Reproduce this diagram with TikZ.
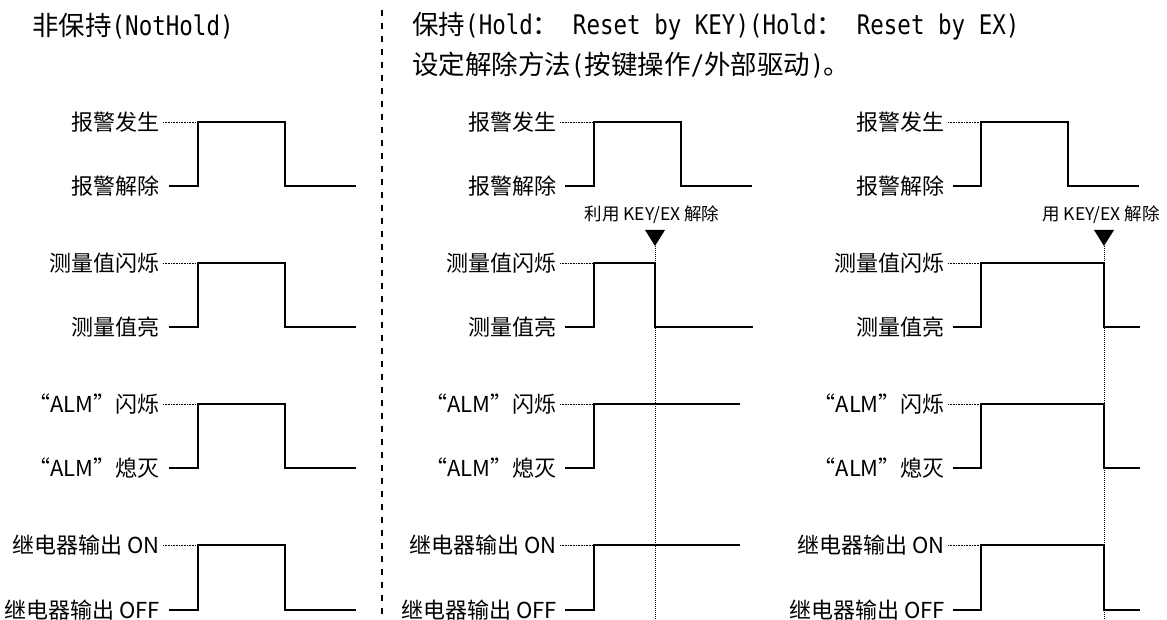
\documentclass[tikz,border=0pt]{standalone}
\usepackage{fontspec}
\setmainfont{Noto Sans CJK SC}
\newfontfamily\titlemono{DejaVu Sans Mono}
\newcommand\tm[1]{\scalebox{1}[1.2]{\titlemono\fontsize{22.5}{22.5}\selectfont #1}}
\begin{document}
\begin{tikzpicture}[x=1pt,y=-1pt]
\useasboundingbox (0,0) rectangle (1167,620);
\tikzset{
  lbl/.style={anchor=east, inner sep=0pt, font=\fontsize{22}{22}\selectfont},
  ttl/.style={anchor=west, inner sep=0pt, font=\fontsize{26.5}{26.5}\selectfont},
  mlbl/.style={inner sep=0pt, font=\fontsize{17.5}{17.5}\selectfont},
  wave/.style={line width=1.3pt, line join=miter, line cap=butt},
  lead/.style={line width=0.6pt, dash pattern=on 0.8pt off 0.8pt},
  vguide/.style={line width=0.8pt, dash pattern=on 1pt off 1pt},
  divider/.style={line width=1.2pt, dash pattern=on 6pt off 7pt},
  trimark/.style={fill=black}
}
\newcommand\rowlabels[6]{%
  \node[lbl] (#1h) at (#2,#3) {#5};
  \node[lbl] (#1l) at (#2,#4) {#6};
}
% titles
\node[ttl] (t1) at (32,26) {非保持\tm{(NotHold)}};
\node[ttl] (t2) at (412,26) {保持\tm{(Hold}：\tm{ Reset by KEY)(Hold}：\tm{ Reset by EX)}};
\node[ttl] (t3) at (412,65) {设定解除方法\tm{(}按键操作\tm{/}外部驱动\tm{)}。};
% divider
\coordinate (dv1) at (382,10);
\coordinate (dv2) at (382,620);
\draw[divider] (dv1) -- (dv2);

% ---------- left panel ----------
\rowlabels{La}{160}{122}{186}{报警发生}{报警解除}
\rowlabels{Lb}{160}{263}{327}{测量值闪烁}{测量值亮}
\rowlabels{Lc}{160}{404}{468}{“ALM”闪烁}{“ALM”熄灭}
\rowlabels{Ld}{160}{545}{610}{继电器输出 ON}{继电器输出 OFF}
\foreach \p/\yh/\yl in {La/122/186, Lb/263/327, Lc/404/468, Ld/545/610}{
  \draw[lead] ([xshift=3pt]\p h.east) -- (198,\yh);
  \draw[wave] ([xshift=9pt]\p l.east) -- (198,\yl) -- (198,\yh) -- (285,\yh) -- (285,\yl) -- (356,\yl);
}

% ---------- middle panel ----------
\rowlabels{Ma}{557}{122}{186}{报警发生}{报警解除}
\rowlabels{Mb}{557}{263}{327}{测量值闪烁}{测量值亮}
\rowlabels{Mc}{557}{404}{468}{“ALM”闪烁}{“ALM”熄灭}
\rowlabels{Md}{557}{545}{610}{继电器输出 ON}{继电器输出 OFF}
\foreach \p/\yh in {Ma/122, Mb/263, Mc/404, Md/545}{
  \draw[lead] ([xshift=3pt]\p h.east) -- (594,\yh);
}
\draw[wave] ([xshift=8pt]Mal.east) -- (594,186) -- (594,122) -- (681,122) -- (681,186) -- (752,186);
\draw[wave] ([xshift=8pt]Mbl.east) -- (594,327) -- (594,263) -- (655,263) -- (655,327) -- (753,327);
\draw[wave] ([xshift=8pt]Mcl.east) -- (594,468) -- (594,404) -- (740,404);
\draw[wave] ([xshift=8pt]Mdl.east) -- (594,610) -- (594,545) -- (740,545);
\node[mlbl] (mkA) at (652,215) {利用 KEY/EX 解除};
\coordinate (tA) at (655,246);
\coordinate (gA) at (655,620);
\fill[trimark] (645,230) -- (665,230) -- (tA) -- cycle;
\draw[vguide] (tA) -- (gA);

% ---------- right panel ----------
\rowlabels{Ra}{945}{122}{186}{报警发生}{报警解除}
\rowlabels{Rb}{945}{263}{327}{测量值闪烁}{测量值亮}
\rowlabels{Rc}{945}{404}{468}{“ALM”闪烁}{“ALM”熄灭}
\rowlabels{Rd}{945}{545}{610}{继电器输出 ON}{继电器输出 OFF}
\foreach \p/\yh in {Ra/122, Rb/263, Rc/404, Rd/545}{
  \draw[lead] ([xshift=3pt]\p h.east) -- (981,\yh);
}
\draw[wave] ([xshift=8pt]Ral.east) -- (981,186) -- (981,122) -- (1068,122) -- (1068,186) -- (1139,186);
\foreach \p/\yh/\yl in {Rb/263/327, Rc/404/468, Rd/545/610}{
  \draw[wave] ([xshift=8pt]\p l.east) -- (981,\yl) -- (981,\yh) -- (1104,\yh) -- (1104,\yl) -- (1140,\yl);
}
\node[mlbl] (mkB) at (1101,215) {用 KEY/EX 解除};
\coordinate (tB) at (1104,246);
\coordinate (gB) at (1104,620);
\fill[trimark] (1094,230) -- (1114,230) -- (tB) -- cycle;
\draw[vguide] (tB) -- (gB);
\end{tikzpicture}
\end{document}
